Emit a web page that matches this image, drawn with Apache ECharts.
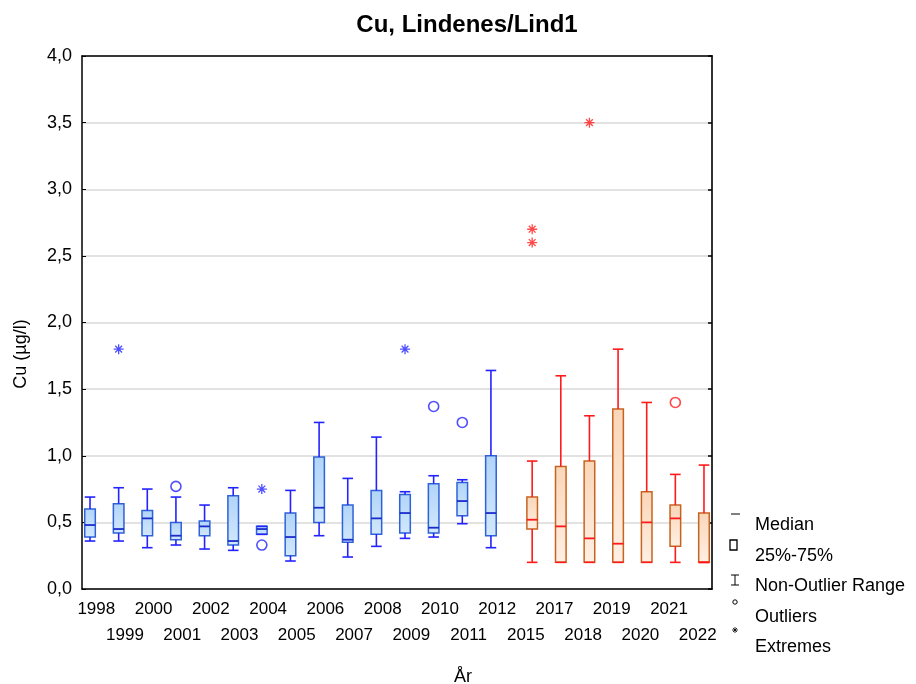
<!DOCTYPE html>
<html>
<head>
<meta charset="utf-8">
<script src="https://cdn.jsdelivr.net/npm/echarts@6/dist/echarts.min.js"></script>
<style>html,body{margin:0;padding:0;background:#fff}#c{width:916px;height:684px}</style>
</head>
<body>
<div id="c"></div>
<script>
const categories = ['1998','1999','2000','2001','2002','2003','2004','2005','2006','2007','2008','2009','2010','2011','2012','2015','2017','2018','2019','2020','2021','2022'];
// [categoryIndex, min, q1, median, q3, max]
const blueBoxes = [
  [0, 0.36, 0.39, 0.48, 0.60, 0.69],
  [1, 0.36, 0.42, 0.45, 0.64, 0.76],
  [2, 0.31, 0.40, 0.53, 0.59, 0.75],
  [3, 0.33, 0.37, 0.40, 0.50, 0.69],
  [4, 0.30, 0.40, 0.47, 0.51, 0.63],
  [5, 0.29, 0.33, 0.36, 0.70, 0.76],
  [6, 0.41, 0.41, 0.45, 0.47, 0.47],
  [7, 0.21, 0.25, 0.39, 0.57, 0.74],
  [8, 0.40, 0.50, 0.61, 0.99, 1.25],
  [9, 0.24, 0.35, 0.37, 0.63, 0.83],
  [10, 0.32, 0.41, 0.53, 0.74, 1.14],
  [11, 0.38, 0.42, 0.57, 0.71, 0.73],
  [12, 0.39, 0.42, 0.46, 0.79, 0.85],
  [13, 0.49, 0.55, 0.66, 0.80, 0.82],
  [14, 0.31, 0.40, 0.57, 1.00, 1.64]
];
const redBoxes = [
  [15, 0.20, 0.45, 0.52, 0.69, 0.96],
  [16, 0.20, 0.20, 0.47, 0.92, 1.60],
  [17, 0.20, 0.20, 0.38, 0.96, 1.30],
  [18, 0.20, 0.20, 0.34, 1.35, 1.80],
  [19, 0.20, 0.20, 0.50, 0.73, 1.40],
  [20, 0.20, 0.32, 0.53, 0.63, 0.86],
  [21, 0.20, 0.20, 0.20, 0.57, 0.93]
];
const blueOutliers = [[3, 0.77], [6, 0.33], [12, 1.37], [13, 1.25]];
const redOutliers = [[20, 1.40]];
const blueExtremes = [[1, 1.80], [6, 0.75], [11, 1.80]];
const redExtremes = [[15, 2.70], [15, 2.60], [17, 3.50]];
const yTicks = [0, 0.5, 1, 1.5, 2, 2.5, 3, 3.5, 4];

const FONT = '"Liberation Sans", Arial, sans-serif';
const chart = echarts.init(document.getElementById('c'), null, {renderer: 'canvas'});

function boxRenderer(side, whisker, border, median, fillTop, fillBottom) {
  return function (params, api) {
    const idx = api.value(0);
    const band = api.size([1, 0])[0];
    const cx = api.coord([idx, 0])[0] + side * band * 0.22;
    const hw = band * 0.185;
    const Y = v => api.coord([idx, v])[1];
    const ymin = Y(api.value(1)), yq1 = Y(api.value(2)), ymed = Y(api.value(3)), yq3 = Y(api.value(4)), ymax = Y(api.value(5));
    const ls = {stroke: whisker, lineWidth: 1.6};
    return {
      type: 'group',
      children: [
        {type: 'rect', shape: {x: cx - hw, y: yq3, width: 2 * hw, height: Math.max(yq1 - yq3, 0.5)},
          style: {fill: {type: 'linear', x: 0, y: 0, x2: 0, y2: 1, colorStops: [{offset: 0, color: fillTop}, {offset: 1, color: fillBottom}]}, stroke: border, lineWidth: 1.5}},
        {type: 'line', shape: {x1: cx, y1: yq3, x2: cx, y2: ymax}, style: ls},
        {type: 'line', shape: {x1: cx - hw, y1: ymax, x2: cx + hw, y2: ymax}, style: ls},
        {type: 'line', shape: {x1: cx, y1: yq1, x2: cx, y2: ymin}, style: ls},
        {type: 'line', shape: {x1: cx - hw, y1: ymin, x2: cx + hw, y2: ymin}, style: ls},
        {type: 'line', shape: {x1: cx - hw, y1: ymed, x2: cx + hw, y2: ymed}, style: {stroke: median, lineWidth: 1.8}}
      ]
    };
  };
}

const starPath = 'path://M5 0 L5 10 M0 5 L10 5 M1.6 1.6 L8.4 8.4 M1.6 8.4 L8.4 1.6';

const option = {
  animation: false,
  backgroundColor: '#fff',
  grid: {left: 82, right: 204, top: 56, bottom: 95, containLabel: false},
  xAxis: [
    {
      type: 'category', data: categories, position: 'bottom',
      axisLine: {onZero: false, lineStyle: {color: '#000', width: 1.5}},
      axisTick: {inside: true, alignWithLabel: true, length: 5, lineStyle: {color: '#000', width: 1.5}},
      axisLabel: {interval: 0, color: '#000', fontFamily: FONT, fontSize: 17, lineHeight: 26, margin: 7,
        formatter: (v, i) => (i % 2 ? '\n' + v : v)},
      splitLine: {show: false}
    },
    {
      type: 'category', data: categories, position: 'top',
      axisLine: {onZero: false, lineStyle: {color: '#000', width: 1.5}},
      axisTick: {inside: true, alignWithLabel: true, length: 5, lineStyle: {color: '#000', width: 1.5}},
      axisLabel: {show: false}, splitLine: {show: false}
    }
  ],
  yAxis: [
    {
      type: 'value', min: 0, max: 4, interval: 0.5, position: 'left',
      axisLine: {show: true, onZero: false, lineStyle: {color: '#000', width: 1.5}},
      axisTick: {show: true, inside: true, length: 4, lineStyle: {color: '#000'}},
      axisLabel: {color: '#000', fontFamily: FONT, fontSize: 18, margin: 10,
        formatter: v => (yTicks.indexOf(v) >= 0 ? v.toFixed(1).replace('.', ',') : '')},
      splitLine: {show: true, lineStyle: {color: '#d8d8d8', width: 1.5}}
    },
    {
      type: 'value', min: 0, max: 4, interval: 0.5, position: 'right',
      axisLine: {show: true, onZero: false, lineStyle: {color: '#333', width: 2}},
      axisTick: {show: true, inside: true, length: 4, lineStyle: {color: '#000', width: 1.5}},
      axisLabel: {show: false}, splitLine: {show: false}
    }
  ],
  series: [
    {
      type: 'custom', name: 'blue', data: blueBoxes, encode: {x: 0, y: [1, 2, 3, 4, 5]},
      renderItem: boxRenderer(-1, '#2323ff', '#2f62d8', '#1a2ccc', '#b0d4f8', '#d2e8fc'), z: 2
    },
    {
      type: 'custom', name: 'red', data: redBoxes, encode: {x: 0, y: [1, 2, 3, 4, 5]},
      renderItem: boxRenderer(1, '#ff1a1a', '#c8631f', '#ff1a1a', '#f9d6b8', '#fef0e5'), z: 2
    },
    {
      type: 'scatter', data: blueOutliers, symbol: 'circle', symbolSize: 10, symbolOffset: [-6.3, 0], z: 3,
      itemStyle: {color: 'rgba(255,255,255,0)', borderColor: '#2323ff', borderWidth: 1.6}
    },
    {
      type: 'scatter', data: redOutliers, symbol: 'circle', symbolSize: 10, symbolOffset: [6.3, 0], z: 3,
      itemStyle: {color: 'rgba(255,255,255,0)', borderColor: '#ff1a1a', borderWidth: 1.6}
    },
    {
      type: 'scatter', data: blueExtremes, symbol: starPath, symbolSize: 10, symbolOffset: [-6.3, 0], z: 3,
      itemStyle: {color: 'rgba(255,255,255,0)', borderColor: '#2323ff', borderWidth: 1.3}
    },
    {
      type: 'scatter', data: redExtremes, symbol: starPath, symbolSize: 10, symbolOffset: [6.3, 0], z: 3,
      itemStyle: {color: 'rgba(255,255,255,0)', borderColor: '#ff1a1a', borderWidth: 1.3}
    }
  ],
  graphic: [
    {type: 'text', x: 467, y: 25, style: {text: 'Cu, Lindenes/Lind1', font: 'bold 24px ' + FONT, fill: '#000', textAlign: 'center', textVerticalAlign: 'middle'}},
    {type: 'text', x: 21, y: 354, rotation: Math.PI / 2, style: {text: 'Cu (µg/l)', font: '18px ' + FONT, fill: '#000', textAlign: 'center', textVerticalAlign: 'middle'}},
    {type: 'text', x: 463, y: 677, style: {text: 'År', font: '18px ' + FONT, fill: '#000', textAlign: 'center', textVerticalAlign: 'middle'}},
    // legend icons
    {type: 'line', shape: {x1: 731, y1: 514, x2: 740, y2: 514}, style: {stroke: '#000', lineWidth: 1}},
    {type: 'rect', shape: {x: 730, y: 540, width: 7, height: 10}, style: {fill: '#fff', stroke: '#000', lineWidth: 1.3}},
    {type: 'line', shape: {x1: 735, y1: 575, x2: 735, y2: 585}, style: {stroke: '#000', lineWidth: 1}},
    {type: 'line', shape: {x1: 731, y1: 575, x2: 739, y2: 575}, style: {stroke: '#000', lineWidth: 1}},
    {type: 'line', shape: {x1: 731, y1: 585, x2: 739, y2: 585}, style: {stroke: '#000', lineWidth: 1}},
    {type: 'circle', shape: {cx: 735, cy: 602, r: 2.2}, style: {fill: 'none', stroke: '#000', lineWidth: 1}},
    {type: 'line', shape: {x1: 735, y1: 627, x2: 735, y2: 633}, style: {stroke: '#000', lineWidth: 0.8}},
    {type: 'line', shape: {x1: 732, y1: 630, x2: 738, y2: 630}, style: {stroke: '#000', lineWidth: 0.8}},
    {type: 'line', shape: {x1: 733, y1: 628, x2: 737, y2: 632}, style: {stroke: '#000', lineWidth: 0.8}},
    {type: 'line', shape: {x1: 733, y1: 632, x2: 737, y2: 628}, style: {stroke: '#000', lineWidth: 0.8}},
    {type: 'text', x: 755, y: 525, style: {text: 'Median', font: '18px ' + FONT, fill: '#000', textVerticalAlign: 'middle'}},
    {type: 'text', x: 755, y: 556, style: {text: '25%-75%', font: '18px ' + FONT, fill: '#000', textVerticalAlign: 'middle'}},
    {type: 'text', x: 755, y: 586, style: {text: 'Non-Outlier Range', font: '18px ' + FONT, fill: '#000', textVerticalAlign: 'middle'}},
    {type: 'text', x: 755, y: 617, style: {text: 'Outliers', font: '18px ' + FONT, fill: '#000', textVerticalAlign: 'middle'}},
    {type: 'text', x: 755, y: 647, style: {text: 'Extremes', font: '18px ' + FONT, fill: '#000', textVerticalAlign: 'middle'}}
  ]
};
chart.setOption(option);
</script>
</body>
</html>
